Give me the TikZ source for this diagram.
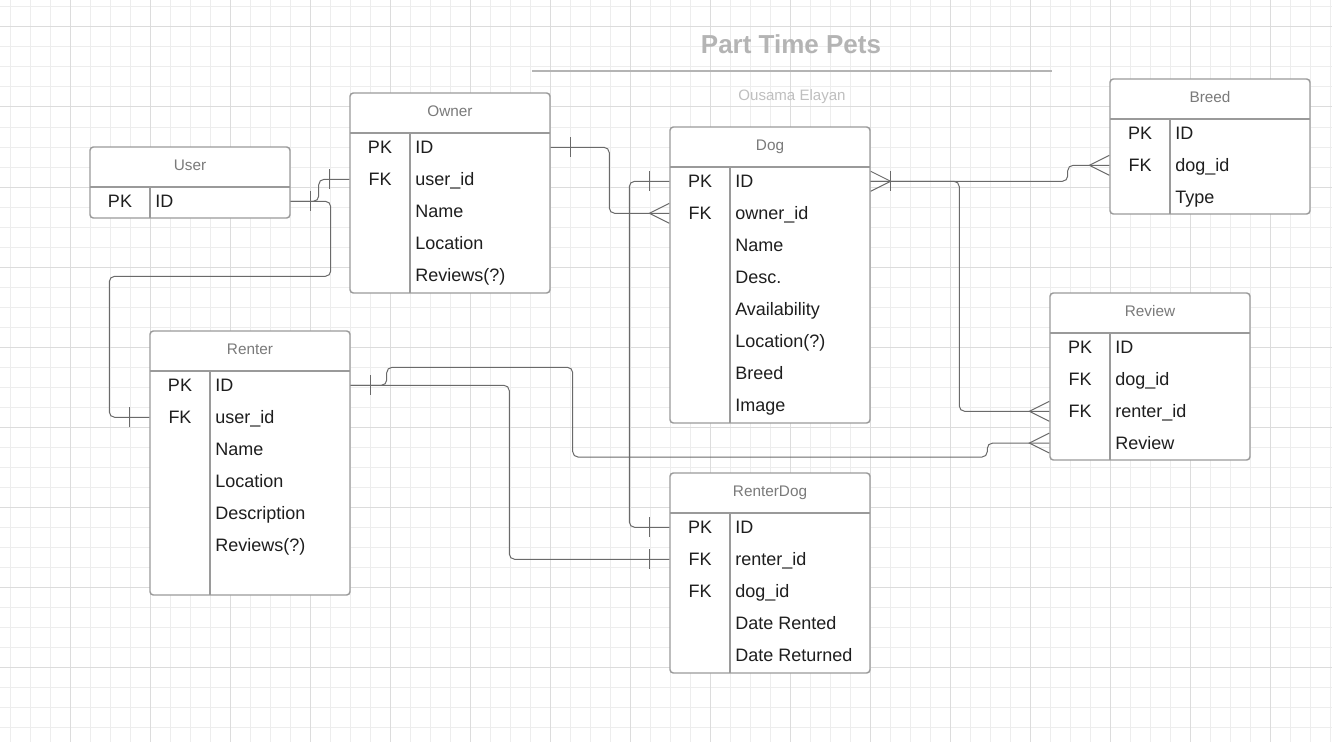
\documentclass[tikz,border=0pt]{standalone}
\usepackage{fontspec}
\setmainfont{Liberation Sans}
\usepackage{tikz}
\usetikzlibrary{positioning,fit,calc}
\definecolor{gridMinor}{HTML}{EDEDED}
\definecolor{gridMajor}{HTML}{DCDCDC}
\definecolor{tableGray}{HTML}{9A9A9A}
\definecolor{linkGray}{HTML}{6A6A6A}
\definecolor{headGray}{HTML}{7A7A7A}
\definecolor{titleGray}{HTML}{B4B4B4}
\definecolor{textDark}{HTML}{1E1E1E}

% one entity table: name, left x, top y, bottom y, title, keys, fields
\newcommand{\ertable}[7]{%
  \node[tbl,fit={(#2,#3) (#2+200,#4)}] (#1) {};
  \node[tblhead] (#1-head) at (#2+100,#3+23.5) {#5};
  \draw[tblrule] (#2,#3+40) -- (#2+200,#3+40);
  \draw[tblrule] (#2+60,#3+40) -- (#2+60,#4);
  \foreach \k [count=\i] in {#6}
    \node[keytxt] (#1-k\i) at (#2+30,#3+28.5+32*\i) {\k};
  \foreach \f [count=\i] in {#7}
    \node[fieldtxt] (#1-f\i) at (#2+65,#3+28.5+32*\i) {\f};
}

\begin{document}
\begin{tikzpicture}[x=0.75pt,y=-0.75pt,
    tbl/.style={draw=tableGray,fill=white,line width=1.1pt,rounded corners=2.5pt,inner sep=0pt},
    tblrule/.style={draw=tableGray,line width=1.1pt},
    tblhead/.style={anchor=base,inner sep=0pt,text=headGray,font=\fontsize{11.5}{13}\selectfont},
    keytxt/.style={anchor=base,inner sep=0pt,text=textDark,font=\fontsize{13.5}{15}\selectfont},
    fieldtxt/.style={anchor=base west,inner sep=0pt,text=textDark,font=\fontsize{13.5}{15}\selectfont},
    rel/.style={draw=linkGray,line width=0.75pt,rounded corners=4pt},
    onebar/.pic={\draw[draw=linkGray,line width=0.75pt] (0,-10) -- (0,10);},
    crowfoot/.pic={\draw[draw=linkGray,line width=0.75pt] (20,-10) -- (0,0) -- (20,10);}]
  \useasboundingbox (0,0) rectangle (1332,742);
  \fill[white] (0,0) rectangle (1332,742);

  % background grid
  \foreach \gx in {10,30,...,1330}
    \draw[gridMinor,line width=0.75pt] (\gx,0) -- (\gx,742);
  \foreach \gy in {7,27,...,742}
    \draw[gridMinor,line width=0.75pt] (0,\gy) -- (1332,\gy);
  \foreach \gx in {70,150,...,1330}
    \draw[gridMajor,line width=0.75pt] (\gx,0) -- (\gx,742);
  \foreach \gy in {27,107,...,742}
    \draw[gridMajor,line width=0.75pt] (0,\gy) -- (1332,\gy);

  % title
  \node[anchor=base,inner sep=0pt,text=titleGray,font=\fontsize{19.5}{22}\selectfont\bfseries] (title) at (791,53.5) {Part Time Pets};
  \draw[titleGray,line width=1.5pt] (532,71) -- (1052,71);
  \node[anchor=base,inner sep=0pt,text=titleGray!85,font=\fontsize{11.3}{13}\selectfont] (author) at (792,100.5) {Ousama Elayan};

  % tables
  \ertable{user}{90}{147}{218}{User}{PK}{ID}
  \ertable{owner}{350}{93}{293}{Owner}{PK,FK}{ID,user\_id,Name,Location,Reviews(?)}
  \ertable{dog}{670}{127}{423}{Dog}{PK,FK}{ID,owner\_id,Name,Desc.,Availability,Location(?),Breed,Image}
  \ertable{breed}{1110}{79}{214}{Breed}{PK,FK}{ID,dog\_id,Type}
  \ertable{review}{1050}{293}{460}{Review}{PK,FK,FK}{ID,dog\_id,renter\_id,Review}
  \ertable{renter}{150}{331}{595}{Renter}{PK,FK}{ID,user\_id,Name,Location,Description,Reviews(?)}
  \ertable{renterdog}{670}{473}{673}{RenterDog}{PK,FK,FK}{ID,renter\_id,dog\_id,Date Rented,Date Returned}

  % relations
  \draw[rel] (user.east|-user-k1) -- ++(28,0) |- (owner.west|-owner-k2);
  \draw[rel] (user.east|-user-k1) -| ++(40,75) -| ($(renter.west|-renter-k2)+(-40,0)$) -- (renter.west|-renter-k2);
  \draw[rel] (owner.east|-owner-k1) -| ($(dog.west|-dog-k2)+(-60,0)$) -- (dog.west|-dog-k2);
  \draw[rel] (dog.west|-dog-k1) -- ++(-40,0) |- (renterdog.west|-renterdog-k1);
  \draw[rel] (renter.east|-renter-k1) -| ($(renterdog.west|-renterdog-k2)+(-160,0)$) -- (renterdog.west|-renterdog-k2);
  \draw[rel] (renter.east|-renter-k1) -- ++(36,0) |- ++(186,-18) |- ($(review.west|-review-f4)+(-62,14)$) |- (review.west|-review-f4);
  \draw[rel] (dog.east|-dog-k1) -- ++(197,0) |- (breed.west|-breed-k2);
  \draw[rel] (dog.east|-dog-k1) -| ($(review.west|-review-k3)+(-90,0)$) -- (review.west|-review-k3);

  % end marks
  \path ($(user.east|-user-k1)+(20,0)$) pic {onebar};
  \path ($(owner.west|-owner-k2)+(-20,0)$) pic {onebar};
  \path ($(renter.west|-renter-k2)+(-20,0)$) pic {onebar};
  \path ($(owner.east|-owner-k1)+(20,0)$) pic {onebar};
  \path ($(dog.west|-dog-k2)+(-20,0)$) pic {crowfoot};
  \path ($(dog.west|-dog-k1)+(-20,0)$) pic {onebar};
  \path ($(renterdog.west|-renterdog-k1)+(-20,0)$) pic {onebar};
  \path ($(renter.east|-renter-k1)+(20,0)$) pic {onebar};
  \path ($(renterdog.west|-renterdog-k2)+(-20,0)$) pic {onebar};
  \path ($(review.west|-review-f4)+(-20,0)$) pic {crowfoot};
  \path ($(dog.east|-dog-k1)+(20,0)$) pic[rotate=180] {crowfoot};
  \path ($(dog.east|-dog-k1)+(20,0)$) pic {onebar};
  \path ($(breed.west|-breed-k2)+(-20,0)$) pic {crowfoot};
  \path ($(review.west|-review-k3)+(-20,0)$) pic {crowfoot};
\end{tikzpicture}
\end{document}
